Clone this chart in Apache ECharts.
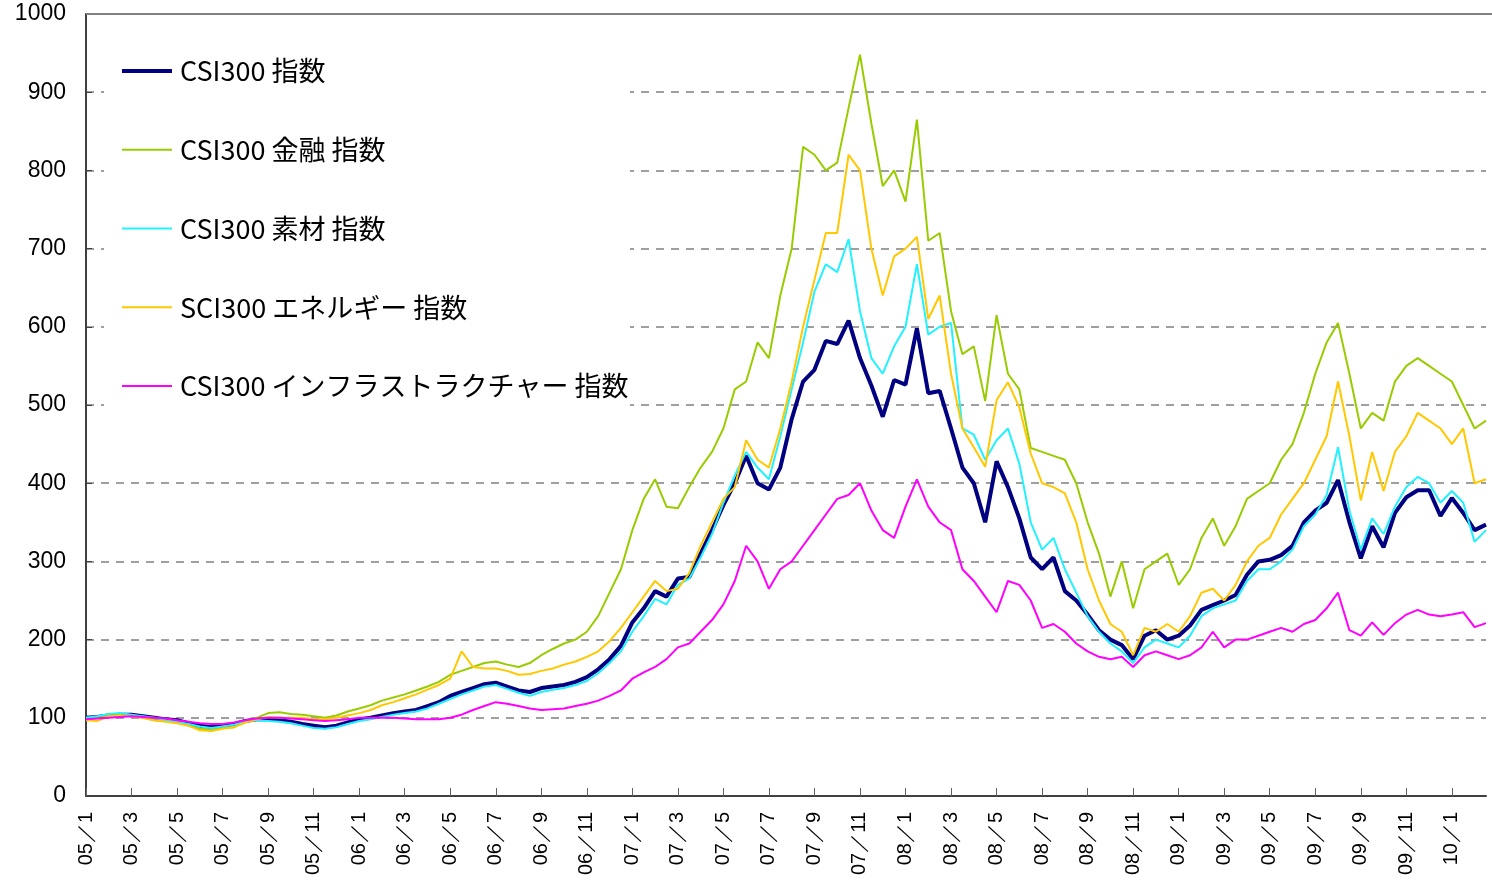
<!DOCTYPE html>
<html>
<head>
<meta charset="utf-8">
<script src="https://cdn.jsdelivr.net/npm/echarts@6/dist/echarts.min.js"></script>
<style>
  html, body { margin: 0; padding: 0; background: #fff; }
  #chart { width: 1492px; height: 887px; }
</style>
</head>
<body>
<div id="chart"></div>
<script>
// half-month samples, 05/1 .. 10/2
const years = ['05', '06', '07', '08', '09', '10']
const dates = []
years.forEach(y => {
  const last = y === '10' ? 2 : 12
  for (let m = 1; m <= last; m++) {
    dates.push(y + '/' + m + 'a')
    dates.push(y + '/' + m + 'b')
  }
})

const yTicks = [0, 100, 200, 300, 400, 500, 600, 700, 800, 900, 1000]

const csi300 = [
  100, 101, 103, 104, 104, 102, 100, 98, 97, 93, 90, 88, 90, 92, 96, 98, 98, 97, 95, 92, 90, 88, 90, 94,
  98, 100, 103, 106, 108, 110, 115, 120, 128, 133, 138, 143, 145, 140, 135, 133, 138, 140, 142, 146, 152, 162, 175, 192,
  222, 240, 262, 255, 278, 280, 310, 340, 372, 400, 435, 400, 392, 420, 482, 530, 545, 582, 578, 608, 560, 525, 485, 532,
  526, 598, 515, 518, 470, 420, 400, 350, 428, 395, 355, 305, 290, 305, 262, 250, 232, 212, 200, 193, 175, 205, 212, 200,
  205, 218, 238, 244, 250, 257, 283, 300, 302, 308, 320, 350, 365, 375, 404, 350, 304, 345, 318, 362, 382, 391, 391, 358,
  381, 362, 340, 347
]
const finance = [
  100, 101, 103, 104, 102, 100, 97, 96, 94, 90, 86, 85, 87, 88, 95, 100, 106, 107, 105, 104, 102, 100, 103, 108,
  112, 116, 122, 126, 130, 135, 140, 146, 155, 160, 165, 170, 172, 168, 165, 170, 180, 188, 195, 200, 210, 230, 260, 290,
  340, 380, 405, 370, 368, 395, 420, 440, 470, 520, 530, 580, 560, 640, 700, 830, 820, 800, 810, 880, 948, 860, 780, 800,
  760, 865, 710, 720, 620, 565, 575, 505, 615, 540, 520, 445, 440, 435, 430, 400, 350, 310, 255, 300, 240, 290, 300, 310,
  270, 290, 330, 355, 320, 345, 380, 390, 400, 430, 450, 490, 540, 580, 605, 540, 470, 490, 480, 530, 550, 560, 550, 540,
  530, 500, 470, 480
]
const materials = [
  100, 102, 105, 106, 104, 102, 100, 97, 95, 92, 89, 87, 89, 91, 95, 97, 96, 95, 93, 90, 87, 86, 88, 92,
  96, 98, 101, 104, 106, 108, 112, 118, 124, 130, 135, 140, 142, 137, 132, 128, 133, 136, 138, 142, 147, 157, 170, 185,
  210, 230, 252, 245, 270, 278, 305, 335, 375, 410, 440, 420, 405, 460, 520, 580, 645, 680, 670, 712, 620, 560, 540, 575,
  600, 680, 590, 600, 605, 470, 462, 430, 455, 470, 425, 350, 315, 330, 290, 260, 230, 210, 195, 185, 170, 190, 200, 195,
  190, 205, 230, 240, 245, 250, 275, 290, 290, 300, 315, 345, 360, 385, 446, 365, 315, 355, 335, 370, 395, 408, 400, 375,
  390, 375, 325, 340
]
const energy = [
  97, 96, 102, 103, 102, 100, 97, 95, 93, 90, 84, 83, 86, 88, 94, 98, 101, 100, 100, 100, 98, 98, 100, 103,
  106, 110, 116, 120, 125, 130, 136, 142, 150, 185, 165, 163, 163, 160, 155, 156, 160, 163, 168, 172, 178, 185, 198, 215,
  235, 255, 275, 262, 265, 285, 320, 350, 380, 395, 455, 430, 420, 470, 530, 600, 660, 720, 720, 820, 800, 700, 640, 690,
  700, 715, 610, 640, 540, 470, 446, 421, 506, 529, 497, 438, 400, 395, 387, 350, 290, 250, 220, 210, 180, 215, 210, 220,
  210, 230, 260, 265, 250, 270, 300, 320, 330, 360, 380, 400, 430, 460, 530, 460, 378, 440, 390, 440, 460, 490, 480, 470,
  450, 470, 400, 405
]
const infra = [
  98, 99, 100, 101, 102, 101, 100, 99, 97, 95, 93, 92, 92, 94, 97, 99, 100, 100, 99, 98, 97, 96, 97, 98,
  100, 100, 100, 100, 99, 98, 98, 98, 100, 104, 110, 115, 120, 118, 115, 112, 110, 111, 112, 115, 118, 122, 128, 135,
  150, 158, 165, 175, 190, 195, 210, 225, 245, 275, 320, 300, 265, 290, 300, 320, 340, 360, 380, 385, 400, 365, 340, 330,
  370, 405, 370, 350, 340, 290, 275, 255, 235, 275, 270, 250, 215, 220, 210, 195, 185, 178, 175, 178, 165, 180, 185, 180,
  175, 180, 190, 210, 190, 200, 200, 205, 210, 215, 210, 220, 225, 240, 260, 212, 205, 222, 206, 221, 232, 238, 232, 230,
  232, 235, 216, 221
]

const chart = echarts.init(document.getElementById('chart'))

const tickEvery2Months = (i) => i % 4 === 0
const lineSeries = (name, data, color, width) => ({
  name,
  type: 'line',
  data,
  symbol: 'none',
  animation: false,
  lineStyle: { color, width },
  itemStyle: { color }
})

chart.setOption({
  backgroundColor: '#fff',
  grid: { left: 86, right: 6, top: 14, bottom: 91 },
  legend: {
    orient: 'vertical',
    left: 120,
    top: 56,
    padding: 0,
    itemWidth: 50,
    itemHeight: 14,
    itemGap: 48.75,
    z: 10,
    itemStyle: { opacity: 0 }, // line only, no dot
    data: [
      { name: 'CSI300 指数', lineStyle: { width: 4 } },
      'CSI300 金融 指数',
      'CSI300 素材 指数',
      'SCI300 エネルギー 指数',
      'CSI300 インフラストラクチャー 指数'
    ],
    textStyle: {
      fontSize: 27,
      lineHeight: 30,
      padding: [0, 0, 0, 3],
      color: '#000',
      fontFamily: 'Noto Sans CJK JP'
    }
  },
  xAxis: {
    type: 'category',
    data: dates,
    boundaryGap: false,
    axisLine: { lineStyle: { color: '#404040', width: 2 } },
    axisTick: { inside: true, length: 8, interval: tickEvery2Months, lineStyle: { color: '#606060' } },
    axisLabel: {
      interval: tickEvery2Months,
      rotate: 90,
      margin: 16,
      fontSize: 20,
      color: '#000',
      fontFamily: 'Liberation Sans',
      formatter: v => v.slice(0, -1).replace('/', '／')
    },
    splitLine: { show: false }
  },
  yAxis: {
    type: 'value',
    min: yTicks[0],
    max: yTicks[yTicks.length - 1],
    interval: 100,
    axisLine: { show: true, lineStyle: { color: '#404040', width: 2 } },
    axisTick: { show: true, inside: true, length: 6, lineStyle: { color: '#404040' } },
    axisLabel: { fontSize: 23, color: '#000', margin: 20, fontFamily: 'Liberation Sans', formatter: v => String(v) },
    splitLine: { lineStyle: { color: '#808080', width: 1.5, type: [8, 7] } }
  },
  graphic: [
    // white box behind the legend hides the grid lines
    { type: 'rect', left: 104, top: 26, shape: { width: 526, height: 390 }, style: { fill: '#fff' }, z: 3 },
    { type: 'line', shape: { x1: 86, y1: 14, x2: 1492, y2: 14 }, style: { stroke: '#808080', lineWidth: 2 }, z: 5 }
  ],
  series: [
    lineSeries('CSI300 指数', csi300, '#000080', 4),
    lineSeries('CSI300 金融 指数', finance, '#99CC00', 2),
    lineSeries('CSI300 素材 指数', materials, '#22F2FF', 2),
    lineSeries('SCI300 エネルギー 指数', energy, '#FFC800', 2),
    lineSeries('CSI300 インフラストラクチャー 指数', infra, '#FF00FF', 2)
  ]
})
</script>
</body>
</html>
